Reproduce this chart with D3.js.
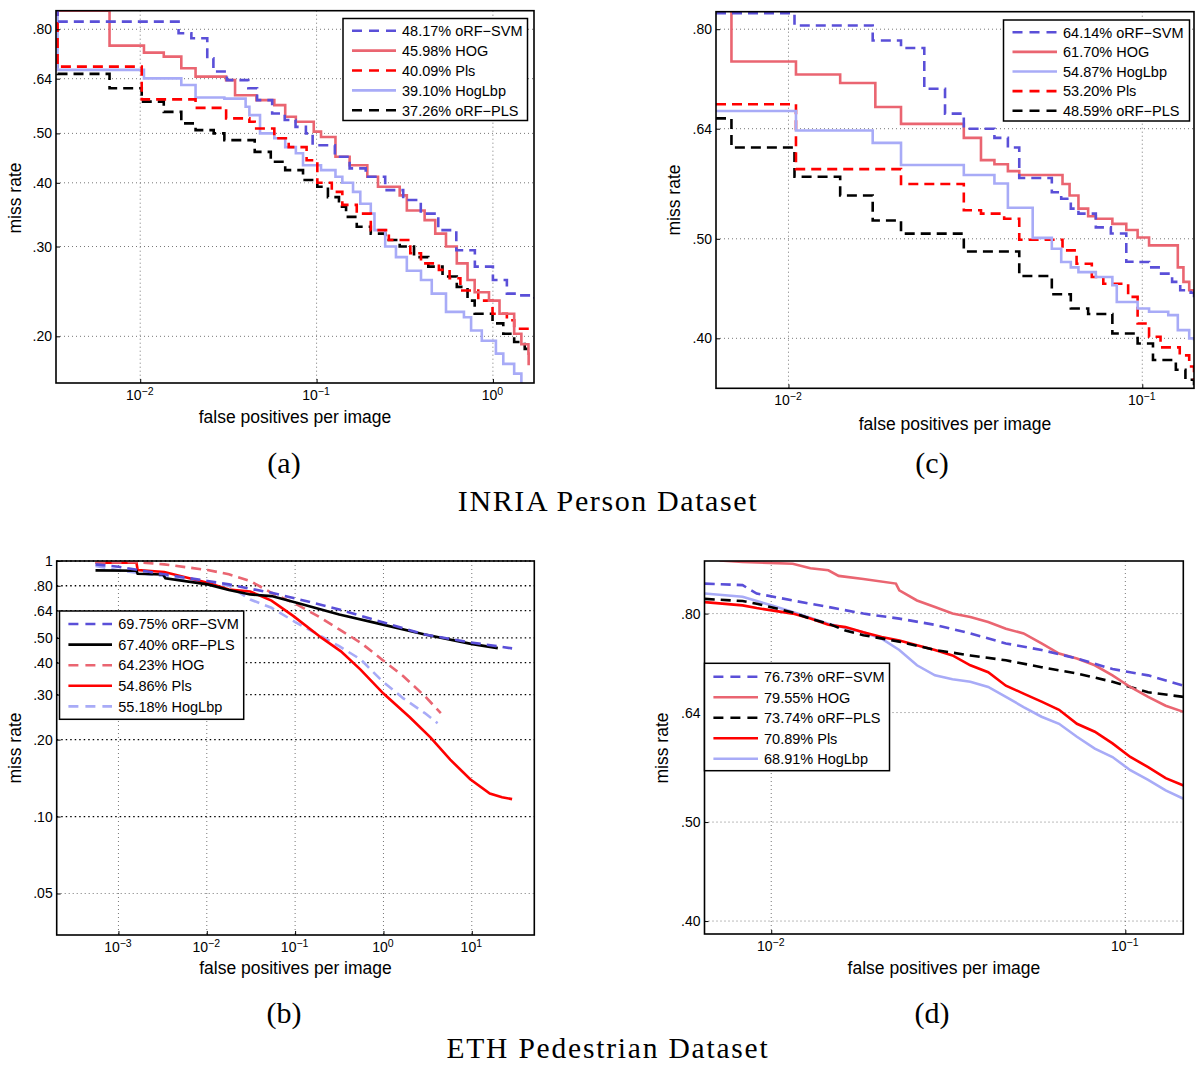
<!DOCTYPE html>
<html>
<head>
<meta charset="utf-8">
<script src="https://cdn.jsdelivr.net/npm/d3@7"></script>
<style>
  body { margin: 0; background: #fff; }
  svg text { font-family: "Liberation Sans", Arial, sans-serif; fill: #000; }
</style>
</head>
<body>
<svg id="fig" width="1197" height="1066"></svg>
<script>
// ---------- data: [false positives per image, miss rate] ----------

// (a) INRIA, full range
var a_orfSvm = [[0.0033,0.88],[0.0034,0.828],[0.0165,0.786],[0.0195,0.768],[0.024,0.702],[0.026,0.661],[0.031,0.636],[0.041,0.613],[0.046,0.581],[0.056,0.547],[0.066,0.531],[0.076,0.515],[0.087,0.50],[0.095,0.474],[0.127,0.45],[0.154,0.427],[0.19,0.411],[0.245,0.387],[0.31,0.37],[0.39,0.348],[0.49,0.323],[0.62,0.295],[0.79,0.274],[1.0,0.258],[1.2,0.2425],[1.45,0.2406],[1.72,0.237]]
var a_hog = [[0.0033,0.87],[0.0067,0.743],[0.0105,0.72],[0.0136,0.707],[0.0171,0.671],[0.0206,0.646],[0.0307,0.636],[0.0345,0.594],[0.0456,0.581],[0.0576,0.568],[0.0664,0.539],[0.0763,0.527],[0.0964,0.504],[0.106,0.492],[0.128,0.45],[0.154,0.433],[0.194,0.411],[0.223,0.393],[0.296,0.378],[0.325,0.353],[0.41,0.338],[0.471,0.318],[0.542,0.30],[0.624,0.278],[0.718,0.258],[0.788,0.244],[0.95,0.235],[1.09,0.2215],[1.32,0.2023],[1.45,0.193],[1.59,0.185],[1.595,0.1755]]
var a_pls = [[0.0033,0.88],[0.0034,0.676],[0.0102,0.583],[0.0206,0.561],[0.0307,0.535],[0.0416,0.527],[0.0446,0.511],[0.0576,0.489],[0.0695,0.47],[0.0878,0.443],[0.101,0.40],[0.122,0.384],[0.14,0.362],[0.169,0.348],[0.203,0.323],[0.257,0.309],[0.34,0.291],[0.391,0.278],[0.494,0.27],[0.568,0.26],[0.654,0.246],[0.826,0.235],[0.995,0.2215],[1.2,0.215],[1.32,0.207],[1.72,0.207]]
var a_hogLbp = [[0.0033,0.88],[0.0034,0.666],[0.0105,0.641],[0.0171,0.622],[0.0206,0.588],[0.030,0.585],[0.0396,0.564],[0.0416,0.543],[0.0478,0.50],[0.0576,0.489],[0.0664,0.47],[0.0763,0.457],[0.0838,0.433],[0.106,0.4235],[0.128,0.411],[0.14,0.40],[0.161,0.384],[0.177,0.364],[0.203,0.348],[0.213,0.323],[0.245,0.30],[0.282,0.286],[0.325,0.269],[0.391,0.258],[0.45,0.2425],[0.542,0.2233],[0.685,0.218],[0.752,0.2053],[0.865,0.196],[1.04,0.185],[1.145,0.1766],[1.32,0.169],[1.45,0.16]]
var a_orfPls = [[0.0033,0.696],[0.0034,0.654],[0.0067,0.613],[0.0102,0.577],[0.0136,0.551],[0.0171,0.523],[0.0206,0.5075],[0.0261,0.50],[0.030,0.485],[0.0446,0.46],[0.055,0.44],[0.0664,0.4235],[0.0838,0.405],[0.101,0.393],[0.116,0.375],[0.134,0.359],[0.147,0.343],[0.169,0.328],[0.203,0.318],[0.245,0.309],[0.296,0.30],[0.357,0.286],[0.43,0.274],[0.518,0.262],[0.624,0.25],[0.718,0.235],[0.788,0.2215],[0.995,0.212],[1.145,0.2023],[1.32,0.195],[1.515,0.189],[1.72,0.189]]

// (c) INRIA, zoomed range
var c_orfSvm = [[0.00624,0.829],[0.0104,0.8066],[0.0173,0.78],[0.0208,0.767],[0.0242,0.70],[0.0277,0.662],[0.0313,0.64],[0.0382,0.627],[0.0417,0.6136],[0.0449,0.573],[0.0555,0.555],[0.059,0.547],[0.0628,0.535],[0.066,0.529],[0.0739,0.513],[0.0815,0.506],[0.0901,0.475],[0.097,0.4747],[0.1045,0.469],[0.113,0.4625],[0.1214,0.454],[0.128,0.4456],[0.137,0.443],[0.14,0.436]]
var c_hog = [[0.00624,0.85],[0.0069,0.744],[0.0105,0.7226],[0.014,0.709],[0.0176,0.672],[0.0208,0.647],[0.0313,0.627],[0.035,0.5965],[0.0382,0.591],[0.0417,0.582],[0.0449,0.577],[0.0595,0.5654],[0.0623,0.551],[0.066,0.535],[0.0703,0.526],[0.0739,0.523],[0.0823,0.517],[0.0901,0.51],[0.097,0.5015],[0.1045,0.4927],[0.126,0.469],[0.1307,0.454],[0.1357,0.4456],[0.14,0.442]]
var c_hogLbp = [[0.00624,0.666],[0.0105,0.6375],[0.0173,0.62],[0.0208,0.59],[0.0313,0.577],[0.0382,0.566],[0.0417,0.536],[0.049,0.501],[0.0555,0.489],[0.059,0.4747],[0.0628,0.469],[0.066,0.464],[0.0739,0.459],[0.0823,0.4505],[0.0847,0.434],[0.097,0.4277],[0.1045,0.4245],[0.1184,0.4214],[0.126,0.4074],[0.1357,0.40],[0.14,0.398]]
var c_pls = [[0.00624,0.676],[0.0105,0.5846],[0.0208,0.5654],[0.0313,0.533],[0.035,0.529],[0.0407,0.523],[0.0449,0.499],[0.0595,0.4872],[0.0652,0.4728],[0.072,0.459],[0.0776,0.452],[0.0912,0.439],[0.097,0.4135],[0.1045,0.4014],[0.1126,0.392],[0.1276,0.385],[0.1357,0.3755],[0.14,0.3645]]
var c_orfPls = [[0.00624,0.655],[0.0069,0.6136],[0.0104,0.5746],[0.014,0.551],[0.0173,0.521],[0.0208,0.5058],[0.0313,0.486],[0.0449,0.46],[0.0555,0.4416],[0.0628,0.4277],[0.0703,0.4224],[0.0823,0.4043],[0.097,0.3954],[0.1072,0.381],[0.1244,0.3728],[0.1324,0.3645],[0.14,0.36]]

// (b) ETH, full range
var b_orfSvm = [[5.5e-4,0.97],[1e-3,0.95],[3.3e-3,0.887],[0.0102,0.835],[0.0178,0.81],[0.031,0.779],[0.054,0.751],[0.104,0.712],[0.316,0.646],[0.96,0.577],[2.94,0.516],[9.8,0.48],[28.6,0.455]]
var b_orfPls = [[5.5e-4,0.919],[1.6e-3,0.916],[1.65e-3,0.892],[3.2e-3,0.885],[3.4e-3,0.855],[0.0102,0.81],[0.0178,0.77],[0.031,0.74],[0.054,0.729],[0.104,0.687],[0.316,0.618],[0.96,0.565],[2.94,0.516],[9.8,0.474],[19.7,0.456]]
var b_hog = [[5.5e-4,0.985],[1.67e-3,0.99],[3.3e-3,0.97],[0.0102,0.922],[0.0178,0.887],[0.031,0.835],[0.054,0.751],[0.104,0.676],[0.181,0.609],[0.316,0.54],[0.552,0.479],[0.96,0.412],[1.68,0.354],[2.94,0.296],[4.46,0.254]]
var b_pls = [[5.5e-4,0.985],[1.6e-3,0.985],[1.65e-3,0.922],[3.3e-3,0.906],[0.0102,0.822],[0.0178,0.774],[0.031,0.76],[0.054,0.70],[0.095,0.61],[0.2,0.50],[0.33,0.443],[0.55,0.376],[1.0,0.303],[2.0,0.244],[3.4,0.204],[5.7,0.167],[9.6,0.14],[16,0.123],[22,0.119],[28.6,0.117]]
var b_hogLbp = [[5.5e-4,0.956],[1e-3,0.92],[3.3e-3,0.873],[0.0102,0.822],[0.0178,0.80],[0.031,0.707],[0.054,0.656],[0.104,0.573],[0.181,0.516],[0.316,0.464],[0.552,0.412],[0.96,0.34],[1.68,0.29],[2.94,0.254],[4.1,0.232]]

// (d) ETH, zoomed range
var d_orfSvm = [[0.00649,0.856],[0.0083,0.853],[0.0091,0.837],[0.0115,0.824],[0.0145,0.812],[0.0182,0.80],[0.023,0.791],[0.029,0.78],[0.0365,0.765],[0.046,0.748],[0.058,0.737],[0.073,0.723],[0.092,0.706],[0.116,0.696],[0.146,0.68]]
var d_hog = [[0.00715,0.902],[0.0083,0.899],[0.0115,0.895],[0.0129,0.886],[0.0145,0.882],[0.0155,0.871],[0.0182,0.865],[0.0225,0.856],[0.023,0.843],[0.0258,0.824],[0.029,0.812],[0.0325,0.80],[0.0365,0.794],[0.041,0.785],[0.046,0.773],[0.0516,0.765],[0.058,0.748],[0.065,0.731],[0.073,0.723],[0.082,0.712],[0.092,0.696],[0.1033,0.678],[0.116,0.663],[0.13,0.65],[0.146,0.641]]
var d_orfPls = [[0.00649,0.827],[0.0083,0.823],[0.0091,0.818],[0.0115,0.802],[0.0129,0.791],[0.0145,0.782],[0.0162,0.77],[0.0182,0.762],[0.023,0.751],[0.029,0.737],[0.0365,0.728],[0.046,0.72],[0.058,0.709],[0.073,0.699],[0.092,0.686],[0.116,0.67],[0.146,0.663]]
var d_pls = [[0.00649,0.821],[0.0083,0.815],[0.0091,0.81],[0.0115,0.80],[0.0129,0.791],[0.0145,0.78],[0.0162,0.776],[0.0182,0.767],[0.0205,0.759],[0.023,0.753],[0.0258,0.745],[0.029,0.737],[0.0325,0.728],[0.0365,0.712],[0.041,0.701],[0.046,0.68],[0.0516,0.668],[0.058,0.656],[0.065,0.644],[0.073,0.624],[0.082,0.613],[0.092,0.597],[0.1033,0.579],[0.116,0.566],[0.13,0.552],[0.146,0.543]]
var d_hogLbp = [[0.00649,0.837],[0.0083,0.831],[0.01,0.815],[0.0115,0.803],[0.0145,0.782],[0.0182,0.767],[0.0205,0.756],[0.023,0.737],[0.0258,0.712],[0.029,0.696],[0.0325,0.69],[0.0365,0.686],[0.041,0.678],[0.046,0.663],[0.0516,0.648],[0.058,0.634],[0.065,0.624],[0.073,0.606],[0.082,0.59],[0.092,0.579],[0.1033,0.562],[0.116,0.55],[0.13,0.537],[0.146,0.527]]

// legend labels
var legendA = ["48.17% oRF\u2212SVM", "45.98% HOG", "40.09% Pls", "39.10% HogLbp", "37.26% oRF\u2212PLS"]
var legendC = ["64.14% oRF\u2212SVM", "61.70% HOG", "54.87% HogLbp", "53.20% Pls", "48.59% oRF\u2212PLS"]
var legendB = ["69.75% oRF\u2212SVM", "67.40% oRF\u2212PLS", "64.23% HOG", "54.86% Pls", "55.18% HogLbp"]
var legendD = ["76.73% oRF\u2212SVM", "79.55% HOG", "73.74% oRF\u2212PLS", "70.89% Pls", "68.91% HogLbp"]

// ticks
var yTicksA = [0.2, 0.3, 0.4, 0.5, 0.64, 0.8]
var yLabelsA = [".20", ".30", ".40", ".50", ".64", ".80"]
var yTicksC = [0.4, 0.5, 0.64, 0.8]
var yLabelsC = [".40", ".50", ".64", ".80"]
var yTicksB = [0.05, 0.1, 0.2, 0.3, 0.4, 0.5, 0.64, 0.8, 1]
var yLabelsB = [".05", ".10", ".20", ".30", ".40", ".50", ".64", ".80", "1"]
var xTicksA = [1e-2, 1e-1, 1]
var xTicksC = [1e-2, 1e-1]
var xTicksB = [1e-3, 1e-2, 1e-1, 1, 10]

// colours
var colSvm = "#5a4fd8", colHog = "#ea6571", colPls = "#ff0000", colLbp = "#a8abf7", colOrfPls = "#000000"

var fig = d3.select("#fig")

function drawPanel(p) {
  var x = d3.scaleLog().domain(p.xDomain).range([p.left, p.right])
  var y = d3.scaleLog().domain(p.yDomain).range([p.bottom, p.top])
  var g = fig.append("g")

  g.append("clipPath").attr("id", "clip-" + p.id)
    .append("rect")
    .attr("x", p.left).attr("y", p.top)
    .attr("width", p.right - p.left).attr("height", p.bottom - p.top)

  // dotted grid
  g.selectAll(".gx").data(p.xTicks).enter().append("line")
    .attr("x1", d => x(d)).attr("x2", d => x(d))
    .attr("y1", p.top).attr("y2", p.bottom)
    .attr("stroke", "#777").attr("stroke-width", 1).attr("stroke-dasharray", "1,3")
  g.selectAll(".gy").data(p.yTicks).enter().append("line")
    .attr("x1", p.left).attr("x2", p.right)
    .attr("y1", d => y(d)).attr("y2", d => y(d))
    .attr("stroke", d => (p.darkGrid && d >= 0.1) ? "#000" : "#777")
    .attr("stroke-width", d => (p.darkGrid && d >= 0.1) ? 1.3 : 1)
    .attr("stroke-dasharray", d => (p.darkGrid && d >= 0.1) ? "1.5,3" : "1,3")

  // curves
  var line = d3.line()
    .x(d => x(d[0])).y(d => y(d[1]))
    .curve(p.step ? d3.curveStepAfter : d3.curveLinear)
  var curves = g.append("g").attr("clip-path", "url(#clip-" + p.id + ")")
  p.series.slice().reverse().forEach(function(s) {
    curves.append("path")
      .attr("d", line(s.data))
      .attr("fill", "none")
      .attr("stroke", s.color)
      .attr("stroke-width", 2.6)
      .attr("stroke-dasharray", s.dash ? "10,6" : null)
  })

  // axes (ticks point inward)
  var yAxis = d3.axisLeft(y).tickValues(p.yTicks)
    .tickFormat((d, i) => p.yLabels[i])
    .tickSizeInner(-4).tickSizeOuter(0).tickPadding(4)
  var ya = g.append("g").attr("transform", "translate(" + p.left + ",0)").call(yAxis)
  ya.select(".domain").remove()
  ya.selectAll("text").attr("font-size", 14).attr("font-family", "Liberation Sans, Arial, sans-serif").attr("fill", "#000")

  var xAxis = d3.axisBottom(x).tickValues(p.xTicks)
    .tickFormat("").tickSizeInner(-4).tickSizeOuter(0)
  var xa = g.append("g").attr("transform", "translate(0," + p.bottom + ")").call(xAxis)
  xa.select(".domain").remove()
  xa.selectAll(".tick text").remove()
  xa.selectAll(".tick").append("text")
    .attr("x", -1).attr("y", 17)
    .attr("text-anchor", "middle")
    .attr("font-size", 14)
    .attr("font-family", "Liberation Sans, Arial, sans-serif")
    .attr("fill", "#000")
    .each(function(d) {
      var t = d3.select(this)
      var e = Math.round(Math.log10(d))
      t.append("tspan").text("10")
      t.append("tspan").attr("dy", -5.5).attr("font-size", 10.5).text(e < 0 ? "\u2212" + (-e) : "" + e)
    })

  // frame
  g.append("rect")
    .attr("x", p.left).attr("y", p.top)
    .attr("width", p.right - p.left).attr("height", p.bottom - p.top)
    .attr("fill", "none").attr("stroke", "#000").attr("stroke-width", 1.6)

  // axis labels
  g.append("text")
    .attr("x", (p.left + p.right) / 2).attr("y", p.xlabelY)
    .attr("text-anchor", "middle").attr("font-size", 17.5)
    .text("false positives per image")
  g.append("text")
    .attr("transform", "translate(" + p.ylabelX + "," + p.ylabelCY + ") rotate(-90)")
    .attr("text-anchor", "middle").attr("font-size", 17.5)
    .text("miss rate")

  // legend
  var L = p.legend
  var lg = g.append("g")
  lg.append("rect")
    .attr("x", L.x0).attr("y", L.y0)
    .attr("width", L.x1 - L.x0).attr("height", L.y1 - L.y0)
    .attr("fill", "#fff").attr("stroke", "#000").attr("stroke-width", 1.5)
  p.series.forEach(function(s, i) {
    var ry = L.row0 + i * L.rowStep
    lg.append("line")
      .attr("x1", L.lx0).attr("x2", L.lx1).attr("y1", ry).attr("y2", ry)
      .attr("stroke", s.color).attr("stroke-width", 2.6)
      .attr("stroke-dasharray", s.dash ? "10,7" : null)
    lg.append("text")
      .attr("x", L.tx).attr("y", ry).attr("dy", "0.36em")
      .attr("font-size", 14.5)
      .text(p.legendLabels[i])
  })
}

drawPanel({
  id: "a", left: 56, right: 534, top: 10.7, bottom: 383,
  xDomain: [0.00333, 1.71], yDomain: [0.162, 0.870],
  xTicks: xTicksA, yTicks: yTicksA, yLabels: yLabelsA, step: true,
  xlabelY: 423, ylabelX: 21, ylabelCY: 198,
  legend: {x0: 343, y0: 18.5, x1: 527.5, y1: 120.5, row0: 30.7, rowStep: 19.9, lx0: 352, lx1: 396, tx: 402},
  legendLabels: legendA,
  series: [
    {data: a_orfSvm, color: colSvm, dash: true},
    {data: a_hog, color: colHog, dash: false},
    {data: a_pls, color: colPls, dash: true},
    {data: a_hogLbp, color: colLbp, dash: false},
    {data: a_orfPls, color: colOrfPls, dash: true}
  ]
})

drawPanel({
  id: "c", left: 716, right: 1194, top: 11.7, bottom: 388.3,
  xDomain: [0.00624, 0.140], yDomain: [0.3576, 0.832],
  xTicks: xTicksC, yTicks: yTicksC, yLabels: yLabelsC, step: true,
  xlabelY: 430, ylabelX: 680, ylabelCY: 200,
  legend: {x0: 1003.5, y0: 20, x1: 1189.5, y1: 121, row0: 32.3, rowStep: 19.6, lx0: 1012.5, lx1: 1057, tx: 1063},
  legendLabels: legendC,
  series: [
    {data: c_orfSvm, color: colSvm, dash: true},
    {data: c_hog, color: colHog, dash: false},
    {data: c_hogLbp, color: colLbp, dash: false},
    {data: c_pls, color: colPls, dash: true},
    {data: c_orfPls, color: colOrfPls, dash: true}
  ]
})

drawPanel({
  id: "b", left: 56.7, right: 534.3, top: 561, bottom: 935,
  xDomain: [2.0e-4, 51], yDomain: [0.0344, 1],
  xTicks: xTicksB, yTicks: yTicksB, yLabels: yLabelsB, step: false, darkGrid: true,
  xlabelY: 974, ylabelX: 21, ylabelCY: 748,
  legend: {x0: 59.5, y0: 611, x1: 243.7, y1: 719.3, row0: 624, rowStep: 20.6, lx0: 68.4, lx1: 112, tx: 118.3},
  legendLabels: legendB,
  series: [
    {data: b_orfSvm, color: colSvm, dash: true},
    {data: b_orfPls, color: colOrfPls, dash: false},
    {data: b_hog, color: colHog, dash: true},
    {data: b_pls, color: colPls, dash: false},
    {data: b_hogLbp, color: colLbp, dash: true}
  ]
})

drawPanel({
  id: "d", left: 704.5, right: 1183.3, top: 561, bottom: 934,
  xDomain: [0.00648, 0.1458], yDomain: [0.3885, 0.9007],
  xTicks: xTicksC, yTicks: yTicksC, yLabels: yLabelsC, step: false,
  xlabelY: 974, ylabelX: 668, ylabelCY: 748,
  legend: {x0: 704.5, y0: 663.3, x1: 889.5, y1: 770.7, row0: 676.8, rowStep: 20.5, lx0: 713.4, lx1: 758, tx: 764},
  legendLabels: legendD,
  series: [
    {data: d_orfSvm, color: colSvm, dash: true},
    {data: d_hog, color: colHog, dash: false},
    {data: d_orfPls, color: colOrfPls, dash: true},
    {data: d_pls, color: colPls, dash: false},
    {data: d_hogLbp, color: colLbp, dash: false}
  ]
})

// sub-figure captions
var captions = [
  {t: "(a)", x: 284, y: 473, size: 30, ls: 0},
  {t: "(c)", x: 932, y: 473, size: 30, ls: 0},
  {t: "INRIA Person Dataset", x: 608, y: 511, size: 30, ls: 1.6},
  {t: "(b)", x: 284, y: 1023, size: 30, ls: 0},
  {t: "(d)", x: 932, y: 1023, size: 30, ls: 0},
  {t: "ETH Pedestrian Dataset", x: 608, y: 1058, size: 29.5, ls: 1.8}
]
captions.forEach(function(c) {
  fig.append("text")
    .attr("x", c.x).attr("y", c.y)
    .attr("text-anchor", "middle")
    .attr("font-size", c.size)
    .attr("letter-spacing", c.ls)
    .style("font-family", "'Liberation Serif', 'DejaVu Serif', serif")
    .text(c.t)
})
</script>
</body>
</html>
